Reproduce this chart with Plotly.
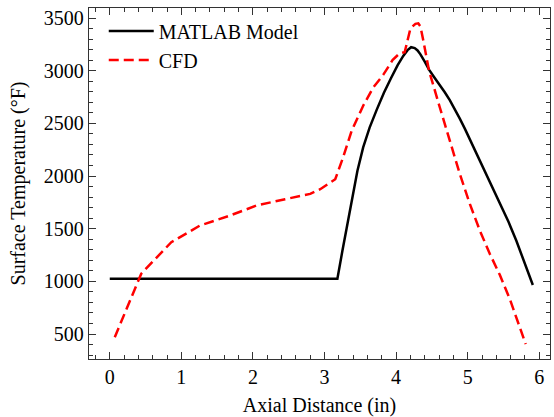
import plotly.graph_objects as go

# Axial surface temperature: MATLAB model vs CFD
matlab_x = [0, 3.18, 3.25, 3.32, 3.38, 3.46, 3.54, 3.63, 3.73, 3.83, 3.93, 4.02,
            4.10, 4.16, 4.21, 4.26, 4.30, 4.34, 4.40, 4.46, 4.53, 4.61, 4.68, 4.75,
            4.82, 4.89, 4.96, 5.03, 5.12, 5.21, 5.33, 5.45, 5.57, 5.68, 5.80, 5.91]
matlab_t = [1025, 1025, 1290, 1555, 1783, 2050, 2272, 2460, 2630, 2790, 2930, 3050,
            3140, 3195, 3223, 3215, 3192, 3155, 3085, 3010, 2940, 2865, 2795, 2720,
            2635, 2545, 2450, 2350, 2222, 2093, 1920, 1745, 1565, 1385, 1175, 966]

cfd_x = [0.07, 0.44, 0.86, 1.26, 1.68, 2.05, 2.45, 2.80, 2.94, 3.15, 3.26, 3.38,
         3.54, 3.68, 3.82, 3.95, 4.05, 4.12, 4.20, 4.27, 4.31, 4.34, 4.38, 4.46,
         4.61, 4.75, 4.89, 5.03, 5.17, 5.31, 5.45, 5.59, 5.73, 5.81]
cfd_t = [470, 1073, 1372, 1530, 1625, 1720, 1780, 1830, 1875, 1970, 2177, 2430,
         2667, 2840, 2960, 3100, 3165, 3175, 3400, 3445, 3450, 3420, 3287, 3000,
         2653, 2337, 2020, 1735, 1482, 1260, 1060, 830, 570, 405]

x_ticks = [0, 1, 2, 3, 4, 5, 6]
y_ticks = [500, 1000, 1500, 2000, 2500, 3000, 3500]

FONT = "Liberation Serif"
AX = "#333333"

fig = go.Figure()
fig.add_trace(go.Scatter(x=matlab_x, y=matlab_t, mode="lines", name="MATLAB Model",
                         line=dict(color="black", width=2.5)))
fig.add_trace(go.Scatter(x=cfd_x, y=cfd_t, mode="lines", name="CFD",
                         line=dict(color="#ff0000", width=2.5, dash="10px,5px")))

axis_common = dict(showgrid=False, zeroline=False, showline=True, linecolor=AX,
                   linewidth=1.3, mirror="ticks", ticks="inside", ticklen=7,
                   tickwidth=1.3, tickcolor=AX,
                   tickfont=dict(family=FONT, size=20, color="black"))

fig.update_xaxes(range=[-0.29, 6.15], tickvals=x_ticks,
                 title=dict(text="Axial Distance (in)",
                            font=dict(family=FONT, size=20, color="black"), standoff=10),
                 minor=dict(ticks="inside", ticklen=4, dtick=0.2, tickcolor=AX, tickwidth=1.2),
                 **axis_common)
fig.update_yaxes(range=[263, 3595], tickvals=y_ticks,
                 title=dict(text="Surface Temperature (°F)",
                            font=dict(family=FONT, size=20, color="black"), standoff=12),
                 minor=dict(ticks="inside", ticklen=4, dtick=100, tickcolor=AX, tickwidth=1.2),
                 **axis_common)

fig.update_layout(
    width=554, height=417,
    margin=dict(l=89, r=4, t=8, b=58),
    paper_bgcolor="white", plot_bgcolor="white",
    font=dict(family=FONT, size=20, color="black"),
    legend=dict(x=0.032, y=0.99, xanchor="left", yanchor="top",
                bgcolor="rgba(0,0,0,0)", font=dict(family=FONT, size=20),
                itemwidth=45),
)

fig.write_html("out.html")
